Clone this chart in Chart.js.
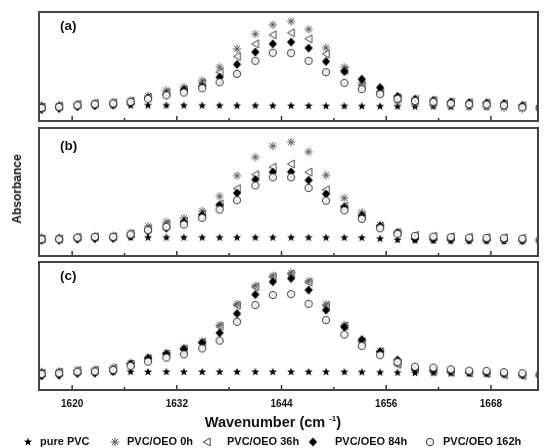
<!DOCTYPE html>
<html>
<head>
<meta charset="utf-8">
<script src="https://cdn.jsdelivr.net/npm/chart.js@4.4.1/dist/chart.umd.min.js"></script>
<style>
    html, body {
        margin: 0;
        padding: 0;
        background: #fff;
    }
    body {
        width: 553px;
        height: 448px;
        position: relative;
        overflow: hidden;
        font-family: "Liberation Sans", Arial, sans-serif;
        font-weight: bold;
        color: #111;
    }
    canvas.panel {
        position: absolute;
        left: 0;
    }
    #ytitle {
        position: absolute;
        left: 17px;
        top: 189px;
        transform: translate(-50%, -50%) rotate(-90deg);
        font-size: 12px;
        white-space: nowrap;
    }
    #xtitle {
        position: absolute;
        left: 273px;
        top: 422px;
        transform: translate(-50%, -50%);
        font-size: 14.5px;
        white-space: nowrap;
    }
    #xtitle sup {
        font-size: 8px;
        vertical-align: 6px;
    }
    #legend span {
        position: absolute;
        font-size: 11px;
        line-height: 13px;
        white-space: nowrap;
    }
    #legend canvas {
        position: absolute;
    }
</style>
</head>
<body>
<canvas class="panel" id="panel-a" width="553" height="126" style="top:0px"></canvas>
<canvas class="panel" id="panel-b" width="553" height="143" style="top:118px"></canvas>
<canvas class="panel" id="panel-c" width="553" height="170" style="top:252px"></canvas>
<div id="ytitle">Absorbance</div>
<div id="xtitle">Wavenumber (cm <sup>-1</sup>)</div>
<div id="legend"></div>
<script>
// wavenumbers (cm-1) of the measured points
const wavenumber = [1616.5, 1618.5, 1620.6, 1622.6, 1624.7, 1626.7, 1628.7, 1630.8, 1632.8, 1634.9,
    1636.9, 1638.9, 1641.0, 1643.0, 1645.1, 1647.1, 1649.1, 1651.2, 1653.2, 1655.3,
    1657.3, 1659.3, 1661.4, 1663.4, 1665.5, 1667.5, 1669.5, 1671.6, 1673.6];
const xMajorTicks = [1620, 1632, 1644, 1656, 1668];
const xMinorTicks = [1626, 1638, 1650, 1662];
const seriesNames = ["pure PVC", "PVC/OEO 0h", "PVC/OEO 36h", "PVC/OEO 84h", "PVC/OEO 162h"];
const panelLabels = ["(a)", "(b)", "(c)"];

// panel (a) - relative absorbance
const pureA = [0.145, 0.145, 0.144, 0.144, 0.144, 0.143, 0.143, 0.142, 0.142, 0.141, 0.141, 0.140, 0.140, 0.139, 0.139,
    0.138, 0.137, 0.136, 0.135, 0.134, 0.133, 0.132, 0.132, 0.131, 0.131, 0.130, 0.130, 0.129, 0.129];
const oeo0hA = [0.133, 0.143, 0.158, 0.167, 0.174, 0.190, 0.230, 0.282, 0.310, 0.372, 0.494, 0.662, 0.798, 0.883, 0.914,
    0.841, 0.672, 0.494, 0.347, 0.273, 0.181, 0.158, 0.149, 0.135, 0.131, 0.128, 0.121, 0.112, 0.108];
const oeo36hA = [0.129, 0.138, 0.154, 0.163, 0.169, 0.184, 0.218, 0.262, 0.287, 0.347, 0.448, 0.592, 0.708, 0.791, 0.810,
    0.754, 0.616, 0.464, 0.328, 0.264, 0.213, 0.198, 0.189, 0.174, 0.167, 0.165, 0.158, 0.140, 0.131];
const oeo84hA = [0.106, 0.115, 0.131, 0.140, 0.146, 0.161, 0.212, 0.243, 0.287, 0.319, 0.402, 0.519, 0.632, 0.708, 0.724,
    0.669, 0.546, 0.454, 0.384, 0.307, 0.227, 0.200, 0.190, 0.176, 0.169, 0.167, 0.160, 0.142, 0.132];
const oeo162hA = [0.120, 0.129, 0.144, 0.154, 0.160, 0.175, 0.204, 0.236, 0.261, 0.301, 0.356, 0.432, 0.552, 0.626, 0.623,
    0.552, 0.448, 0.350, 0.292, 0.246, 0.204, 0.184, 0.175, 0.160, 0.154, 0.151, 0.144, 0.126, 0.117];

// panel (b)
const pureB = [0.146, 0.146, 0.145, 0.145, 0.145, 0.145, 0.144, 0.144, 0.144, 0.144, 0.144, 0.144, 0.144, 0.144, 0.144,
    0.144, 0.143, 0.143, 0.142, 0.135, 0.125, 0.122, 0.121, 0.120, 0.120, 0.119, 0.119, 0.118, 0.118];
const oeo0hB = [0.135, 0.135, 0.148, 0.155, 0.159, 0.182, 0.233, 0.267, 0.296, 0.353, 0.466, 0.628, 0.772, 0.859, 0.890,
    0.814, 0.631, 0.453, 0.341, 0.243, 0.186, 0.135, 0.127, 0.123, 0.121, 0.119, 0.118, 0.115, 0.111];
const oeo36hB = [0.133, 0.133, 0.147, 0.151, 0.152, 0.173, 0.214, 0.249, 0.272, 0.327, 0.406, 0.526, 0.636, 0.694, 0.720,
    0.655, 0.518, 0.390, 0.312, 0.233, 0.182, 0.162, 0.155, 0.151, 0.147, 0.145, 0.143, 0.139, 0.131];
const oeo84hB = [0.123, 0.123, 0.131, 0.135, 0.137, 0.155, 0.194, 0.217, 0.265, 0.317, 0.396, 0.492, 0.597, 0.655, 0.657,
    0.592, 0.484, 0.382, 0.316, 0.233, 0.182, 0.135, 0.131, 0.129, 0.127, 0.127, 0.126, 0.123, 0.119];
const oeo162hB = [0.131, 0.131, 0.144, 0.149, 0.149, 0.168, 0.202, 0.228, 0.246, 0.298, 0.363, 0.436, 0.551, 0.615, 0.615,
    0.531, 0.432, 0.356, 0.290, 0.217, 0.173, 0.157, 0.151, 0.147, 0.143, 0.141, 0.139, 0.135, 0.127];

// panel (c)
const pureC = [0.143, 0.143, 0.143, 0.142, 0.142, 0.142, 0.141, 0.141, 0.141, 0.141, 0.141, 0.141, 0.141, 0.141, 0.141,
    0.141, 0.141, 0.140, 0.139, 0.137, 0.135, 0.133, 0.131, 0.129, 0.127, 0.126, 0.125, 0.124, 0.123];
const oeo0hC = [0.137, 0.145, 0.157, 0.161, 0.176, 0.211, 0.254, 0.290, 0.329, 0.381, 0.507, 0.671, 0.814, 0.893, 0.916,
    0.851, 0.668, 0.509, 0.384, 0.305, 0.204, 0.161, 0.149, 0.141, 0.133, 0.129, 0.121, 0.114, 0.110];
const oeo36hC = [0.132, 0.140, 0.152, 0.156, 0.170, 0.204, 0.246, 0.282, 0.321, 0.373, 0.498, 0.662, 0.806, 0.885, 0.907,
    0.843, 0.660, 0.500, 0.377, 0.299, 0.200, 0.160, 0.148, 0.140, 0.132, 0.128, 0.120, 0.113, 0.109];
const oeo84hC = [0.110, 0.115, 0.129, 0.131, 0.145, 0.204, 0.248, 0.282, 0.319, 0.368, 0.446, 0.597, 0.746, 0.846, 0.872,
    0.781, 0.624, 0.491, 0.394, 0.298, 0.235, 0.164, 0.157, 0.149, 0.141, 0.137, 0.129, 0.121, 0.114];
const oeo162hC = [0.125, 0.131, 0.143, 0.145, 0.157, 0.188, 0.222, 0.253, 0.278, 0.325, 0.386, 0.533, 0.664, 0.742, 0.749,
    0.673, 0.546, 0.433, 0.345, 0.272, 0.218, 0.182, 0.175, 0.162, 0.151, 0.149, 0.139, 0.131, 0.123];

const FONT = '"Liberation Sans", Arial, sans-serif';
Chart.defaults.font.family = FONT;
Chart.defaults.color = '#111';

// marker shapes, drawn once into small canvases and used as point styles
const markerKinds = ["star", "asterisk", "triangle", "diamond", "circle"];

function drawMarker(ctx, kind, cx, cy) {
    ctx.save();
    ctx.translate(cx, cy);
    ctx.beginPath();
    if (kind == "star") {
        for (let k = 0; k < 10; k++) {
            const r = k % 2 ? 1.8 : 4.3;
            const a = -Math.PI / 2 + k * Math.PI / 5;
            ctx.lineTo(r * Math.cos(a), r * Math.sin(a));
        }
        ctx.closePath();
        ctx.fillStyle = "#000";
        ctx.fill();
    } else if (kind == "asterisk") {
        for (let k = 0; k < 4; k++) {
            const a = k * Math.PI / 4;
            ctx.moveTo(-4.2 * Math.cos(a), -4.2 * Math.sin(a));
            ctx.lineTo(4.2 * Math.cos(a), 4.2 * Math.sin(a));
        }
        ctx.strokeStyle = "#555";
        ctx.lineWidth = 1;
        ctx.stroke();
    } else if (kind == "triangle") {
        ctx.moveTo(-3.6, 0);
        ctx.lineTo(3.2, -4);
        ctx.lineTo(3.2, 4);
        ctx.closePath();
        ctx.strokeStyle = "#444";
        ctx.lineWidth = 1;
        ctx.stroke();
    } else if (kind == "diamond") {
        ctx.moveTo(0, -4.6);
        ctx.lineTo(4.1, 0);
        ctx.lineTo(0, 4.6);
        ctx.lineTo(-4.1, 0);
        ctx.closePath();
        ctx.fillStyle = "#000";
        ctx.fill();
    } else {
        ctx.arc(0, 0, 3.6, 0, Math.PI * 2);
        ctx.fillStyle = "#fff";
        ctx.fill();
        ctx.strokeStyle = "#333";
        ctx.lineWidth = 1;
        ctx.stroke();
        ctx.fillStyle = "#777";
        ctx.fillRect(-0.5, -0.5, 1, 1);
    }
    ctx.restore();
}

function markerCanvas(kind) {
    const c = document.createElement("canvas");
    c.width = 12;
    c.height = 12;
    drawMarker(c.getContext("2d"), kind, 6, 6);
    return c;
}

const markers = {};
markerKinds.forEach((k) => { markers[k] = markerCanvas(k); });

// frame, inner tick marks and panel letter
const panelFrame = {
    id: "panelFrame",
    afterDatasetsDraw(chart, args, opts) {
        const {ctx, chartArea: a, scales} = chart;
        ctx.save();
        ctx.strokeStyle = "#333";
        ctx.lineWidth = 1.5;
        xMajorTicks.forEach((v) => {
            const x = scales.x.getPixelForValue(v);
            ctx.beginPath();
            ctx.moveTo(x, a.bottom);
            ctx.lineTo(x, a.bottom - 5);
            ctx.stroke();
        });
        xMinorTicks.forEach((v) => {
            const x = scales.x.getPixelForValue(v);
            ctx.beginPath();
            ctx.moveTo(x, a.bottom);
            ctx.lineTo(x, a.bottom - 3);
            ctx.stroke();
        });
        ctx.strokeStyle = "#444";
        ctx.lineWidth = 2;
        ctx.strokeRect(a.left, a.top, a.right - a.left, a.bottom - a.top);
        ctx.fillStyle = "#111";
        ctx.font = "bold 13.5px " + FONT;
        ctx.textBaseline = "top";
        ctx.fillText(opts.label, a.left + 21, a.top + opts.dy);
        ctx.restore();
    }
};

function makePanel(id, label, labelDy, series, padding, showAxis) {
    // circles drawn on top, stars at the bottom
    const drawOrder = [4, 3, 2, 1, 0];
    const datasets = series.map((values, i) => ({
        label: seriesNames[i],
        data: values.map((y, j) => ({x: wavenumber[j], y: y})),
        showLine: false,
        pointStyle: markers[markerKinds[i]],
        pointRadius: 4,
        order: drawOrder[i],
        clip: 0,
    }));
    const xAxis = {
        type: "linear",
        min: 1616.2,
        max: 1673.4,
        display: showAxis,
        grid: {display: false, drawTicks: false},
        border: {display: false},
        afterBuildTicks: (scale) => {
            scale.ticks = xMajorTicks.map((v) => ({value: v}));
        },
        ticks: {
            autoSkip: false,
            maxRotation: 0,
            padding: 8,
            color: "#111",
            font: {size: 10, weight: "bold"},
            callback: (v) => String(v),
        },
    };
    if (showAxis) {
        xAxis.afterFit = (scale) => { scale.height = 20; };
    }
    return new Chart(document.getElementById(id), {
        type: "scatter",
        data: {datasets: datasets},
        plugins: [panelFrame],
        options: {
            responsive: false,
            animation: false,
            events: [],
            layout: {padding: padding},
            plugins: {
                legend: {display: false},
                tooltip: {enabled: false},
                panelFrame: {label: label, dy: labelDy},
            },
            scales: {
                x: xAxis,
                y: {min: 0, max: 1, display: false},
            },
        },
    });
}

makePanel("panel-a", panelLabels[0], 8, [pureA, oeo0hA, oeo36hA, oeo84hA, oeo162hA],
    {top: 12, bottom: 5, left: 39, right: 15}, false);
makePanel("panel-b", panelLabels[1], 11.5, [pureB, oeo0hB, oeo36hB, oeo84hB, oeo162hB],
    {top: 10, bottom: 5, left: 39, right: 15}, false);
makePanel("panel-c", panelLabels[2], 8, [pureC, oeo0hC, oeo36hC, oeo84hC, oeo162hC],
    {top: 10, bottom: 12, left: 39, right: 15}, true);

// legend row under the axis title
const legendMarkerX = [28, 115, 207, 313, 430];
const legendTextX = [40, 127, 227, 335, 443];
const legend = document.getElementById("legend");
seriesNames.forEach((name, i) => {
    const m = markerCanvas(markerKinds[i]);
    m.style.left = (legendMarkerX[i] - 6) + "px";
    m.style.top = "436px";
    legend.appendChild(m);
    const t = document.createElement("span");
    t.textContent = name;
    t.style.left = legendTextX[i] + "px";
    t.style.top = "435px";
    legend.appendChild(t);
});
</script>
</body>
</html>
